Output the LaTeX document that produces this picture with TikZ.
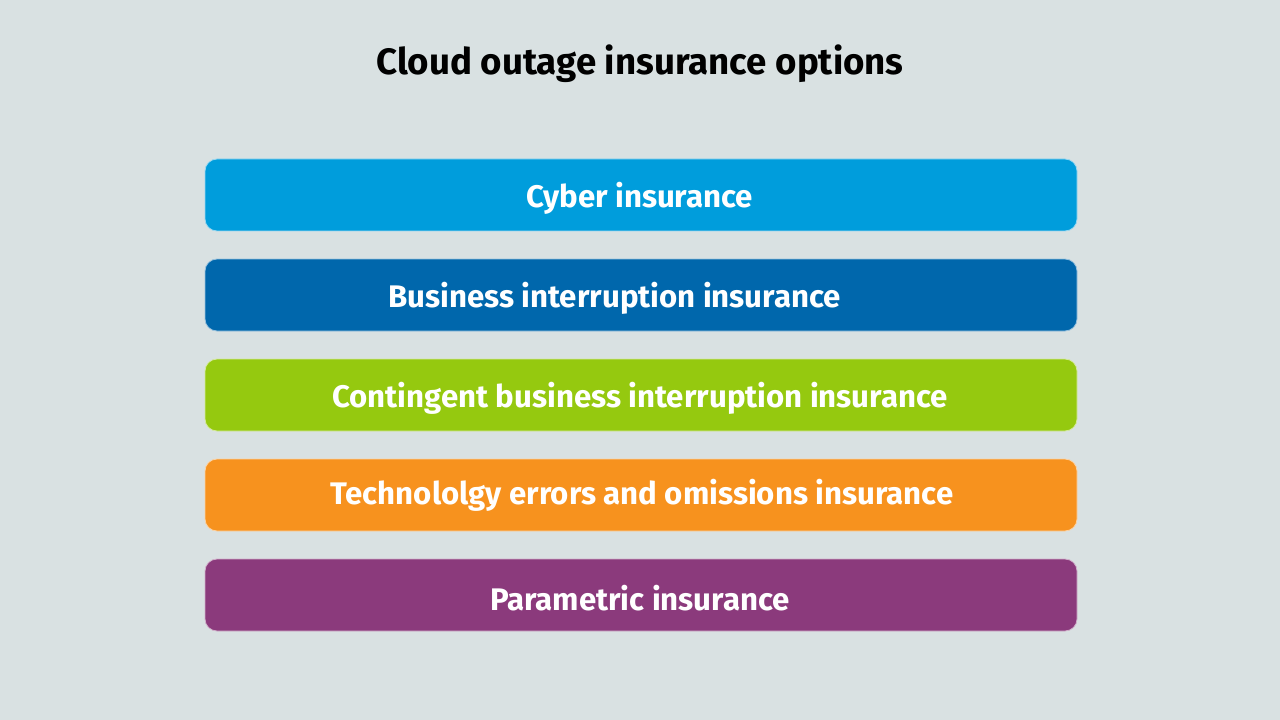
\documentclass[tikz,border=0pt]{standalone}
\usepackage{fontspec}
\setmainfont{Fira Sans}
\definecolor{bg}{HTML}{D9E1E2}
\definecolor{cA}{HTML}{009DDC}
\definecolor{cB}{HTML}{0067AC}
\definecolor{cC}{HTML}{95C90F}
\definecolor{cD}{HTML}{F7921E}
\definecolor{cE}{HTML}{8B3A7C}
\tikzset{
  bar/.style={draw=white!60!#1, line width=0.6pt, fill=#1, rounded corners=9pt},
  bartext/.style={text=white, font=\fontsize{23.4}{28}\selectfont\bfseries, anchor=center},
  titletext/.style={text=black, font=\fontsize{27.5}{32}\selectfont\bfseries, anchor=center}
}
\begin{document}
\begin{tikzpicture}[x=0.75pt,y=-0.75pt]
\fill[bg] (0,0) rectangle (1280,720);
\useasboundingbox (0,0) rectangle (1280,720);
\node[titletext] (title) at (640,64) {Cloud outage insurance options};
\draw[bar=cA] (205,159) rectangle (1077,231);
\node[bartext] (t1) at (640,198) {Cyber insurance};
\draw[bar=cB] (205,259) rectangle (1077,331);
\node[bartext] (t2) at (614.5,298) {Business interruption insurance};
\draw[bar=cC] (205,359) rectangle (1077,431);
\node[bartext] (t3) at (640,398) {Contingent business interruption insurance};
\draw[bar=cD] (205,459) rectangle (1077,531);
\node[bartext] (t4) at (642,495) {Technololgy errors and omissions insurance};
\draw[bar=cE] (205,559) rectangle (1077,631);
\node[bartext] (t5) at (640,598) {Parametric insurance};
\end{tikzpicture}
\end{document}
